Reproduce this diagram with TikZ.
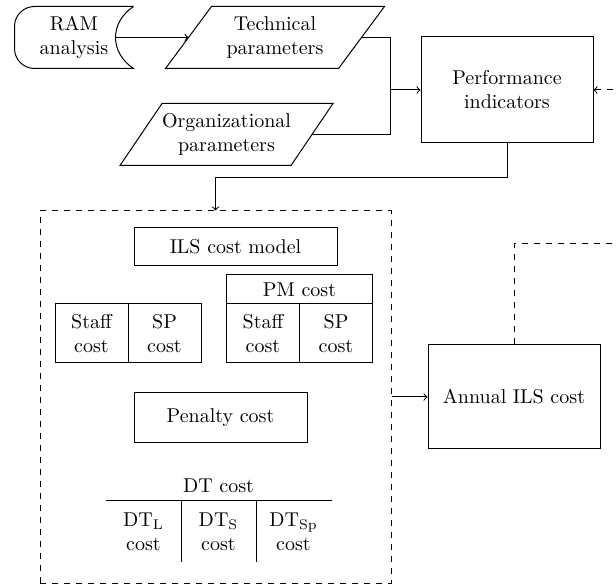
\documentclass[tikz,border=0pt]{standalone}
\usetikzlibrary{arrows,positioning}

\tikzset{
  box/.style={draw, align=center, minimum width=86pt, minimum height=53pt},
  slanted/.style={align=center, minimum width=86pt, minimum height=30.5pt},
  cell/.style={draw, align=center, minimum width=36.5pt, minimum height=29.5pt},
  dtcell/.style={align=center, minimum width=37.5pt, minimum height=30.5pt}
}

% parallelogram round a node: #1 node, #2 slant
\newcommand{\slantframe}[2]{\draw ([xshift=#2]#1.north west) -- ([xshift=#2]#1.north east) -- ([xshift=-#2]#1.south east) -- ([xshift=-#2]#1.south west) -- cycle;}

\begin{document}
\begin{tikzpicture}[x=0.5pt,y=-0.5pt,>=to,line width=0.5pt,auto]
\useasboundingbox (0,0) rectangle (616,587);

% inputs
\node[align=center, minimum width=59pt, minimum height=30.5pt] (ram) at (74,37.5) {RAM\\analysis};
\node[slanted] (tech) at (275,37.5) {Technical\\parameters};
\node[slanted, minimum width=85pt] (org) at (226.5,134.5) {Organizational\\parameters};
\node[box] (perf) at (507,90) {Performance\\indicators};

\draw (ram.north east) -- ([xshift=10pt]ram.north west) arc[start angle=90, end angle=180, radius=10pt]
      -- ([yshift=10pt]ram.south west) arc[start angle=180, end angle=270, radius=10pt]
      -- (ram.south east) .. controls ([xshift=-12pt,yshift=8pt]ram.south east) and ([xshift=-12pt,yshift=-8pt]ram.north east) .. (ram.north east);
\slantframe{tech}{11.5pt}
\slantframe{org}{10.5pt}

% ILS cost model
\node[draw, dashed, minimum width=175.5pt, minimum height=186pt] (ils) at (215.5,397) {};
\node[draw, minimum width=101.5pt, minimum height=19pt] (model) at (235.5,247) {ILS cost model};

\node[cell] (staff) at (91.5,333.5) {Staff\\cost};
\node[cell] (sp) [right of=staff, node distance=36.5pt] {SP\\cost};

\node[cell] (pmstaff) at (263,333.5) {Staff\\cost};
\node[cell] (pmsp) [right of=pmstaff, node distance=36.5pt] {SP\\cost};
\node[draw, minimum width=73pt, minimum height=14.5pt] (pm) at (299.5,289.5) {PM cost};

\node[draw, minimum width=86.5pt, minimum height=25pt] (penalty) at (220.5,418) {Penalty cost};

\node[dtcell] (dts) at (218.5,531.5) {DT\textsubscript{S}\\cost};
\node[dtcell] (dtl) [left of=dts, node distance=37.5pt] {DT\textsubscript{L}\\cost};
\node[dtcell] (dtsp) [right of=dts, node distance=37.5pt] {DT\textsubscript{Sp}\\cost};
\node (dt) [above of=dts, node distance=22.75pt] {DT cost};
\draw (dtl.north west) -- (dtsp.north east);
\draw (dtl.north east) -- (dtl.south east);
\draw (dts.north east) -- (dts.south east);

\node[box, minimum height=52pt] (annual) at (514,397) {Annual ILS cost};

% connectors
\coordinate (join) at ([xshift=-15pt]perf.west);
\coordinate (fb) at (640,244);

\path[->] ([xshift=-9pt]ram.east) edge (tech.west)
          (ils) edge (annual);
\draw (tech.east) -| (join);
\draw (org.east) -| (join);
\draw[->] (join) -- (perf);
\draw[->] (perf.south) -- ++(0,34) -| (ils.north);
\draw[->, dashed] (annual.north) |- (fb) |- (perf.east);

\end{tikzpicture}
\end{document}
